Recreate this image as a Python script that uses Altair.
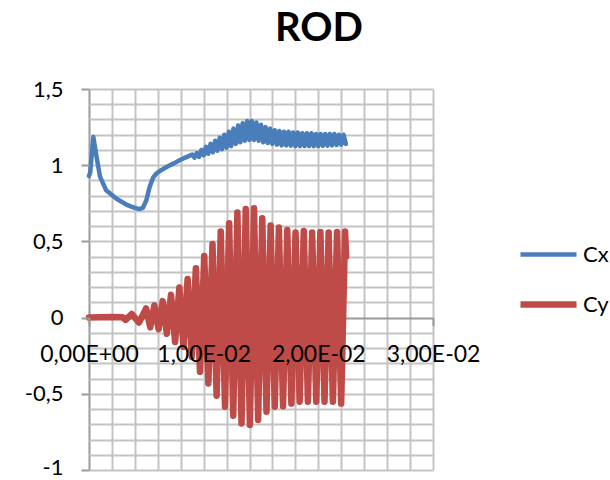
import altair as alt
import pandas as pd

# ---------------- data ----------------
cx_t = [0.0000, 0.0001, 0.00038, 0.00067, 0.00096, 0.0015, 0.0024, 0.0033, 0.0040,
        0.0044, 0.0047, 0.0050, 0.0053, 0.0056, 0.0059, 0.0063, 0.0068, 0.0074, 0.0079, 0.0084,
        0.0090, 0.0092, 0.0094, 0.0096, 0.0098, 0.0100, 0.0102, 0.0104, 0.0106, 0.0108,
        0.0110, 0.0112, 0.0114, 0.0116, 0.0118, 0.0120, 0.0122, 0.0124, 0.0126, 0.0128,
        0.0130, 0.0132, 0.0134, 0.0136, 0.0138, 0.0140, 0.0142, 0.0144, 0.0146, 0.0148,
        0.0150, 0.0152, 0.0154, 0.0156, 0.0158, 0.0160, 0.0162, 0.0164, 0.0166, 0.0168,
        0.0170, 0.0172, 0.0174, 0.0176, 0.0178, 0.0180, 0.0182, 0.0184, 0.0186, 0.0188,
        0.0190, 0.0192, 0.0194, 0.0196, 0.0198, 0.0200, 0.0202, 0.0204, 0.0206, 0.0208,
        0.0210, 0.0212, 0.0214, 0.0216, 0.0218, 0.0220, 0.0222, 0.0224]
cx_v = [0.93, 0.95, 1.185, 1.05, 0.925, 0.835, 0.78, 0.74, 0.72,
        0.712, 0.72, 0.77, 0.86, 0.92, 0.947, 0.968, 0.99, 1.012, 1.032, 1.05,
        1.07, 1.05, 1.08, 1.055, 1.10, 1.065, 1.12, 1.075, 1.14, 1.085,
        1.16, 1.095, 1.18, 1.105, 1.20, 1.115, 1.22, 1.125, 1.24, 1.14,
        1.26, 1.15, 1.275, 1.16, 1.29, 1.165, 1.29, 1.165, 1.28, 1.16,
        1.265, 1.15, 1.25, 1.145, 1.24, 1.14, 1.23, 1.135, 1.225, 1.13,
        1.22, 1.13, 1.22, 1.128, 1.215, 1.125, 1.215, 1.125, 1.21, 1.125,
        1.21, 1.125, 1.21, 1.125, 1.205, 1.125, 1.205, 1.127, 1.205, 1.128,
        1.205, 1.13, 1.205, 1.132, 1.20, 1.135, 1.20, 1.14]

cy_t = [0.0, 0.0020, 0.0029, 0.0032, 0.00372, 0.00436, 0.00498, 0.00534,
        0.00570, 0.00607, 0.00643, 0.00679, 0.00715, 0.00751, 0.00788, 0.00824,
        0.00860, 0.00896, 0.00932, 0.00968, 0.01005, 0.01041, 0.01077, 0.01113,
        0.01149, 0.01186, 0.01222, 0.01258, 0.01294, 0.01330, 0.01367, 0.01403,
        0.01439, 0.01475, 0.01511, 0.01548, 0.01584, 0.01620, 0.01656, 0.01692,
        0.01729, 0.01765, 0.01801, 0.01837, 0.01873, 0.01909, 0.01946, 0.01982,
        0.02018, 0.02054, 0.02090, 0.02127, 0.02163, 0.02199, 0.02233, 0.02242]
cy_v = [0.0, 0.004, 0.003, -0.015, 0.024, -0.033, 0.060, -0.064,
        0.080, -0.076, 0.108, -0.106, 0.150, -0.160, 0.198, -0.193,
        0.253, -0.258, 0.324, -0.356, 0.405, -0.432, 0.483, -0.512,
        0.565, -0.585, 0.619, -0.644, 0.689, -0.695, 0.712, -0.705,
        0.718, -0.672, 0.652, -0.618, 0.604, -0.585, 0.591, -0.582,
        0.575, -0.564, 0.558, -0.552, 0.569, -0.552, 0.558, -0.552,
        0.562, -0.552, 0.558, -0.552, 0.562, -0.564, 0.565, 0.400]

series_names = ["Cx", "Cy"]
series_colors = ["#4A7EBB", "#BE4B48"]
series_widths = [4.5, 6.5]

x_ticks = [0.0, 0.01, 0.02, 0.03]
x_tick_labels = ["0,00E+00", "1,00E-02", "2,00E-02", "3,00E-02"]
y_ticks = [-1.0, -0.5, 0.0, 0.5, 1.0, 1.5]
y_tick_labels = ["-1", "-0,5", "0", "0,5", "1", "1,5"]
x_grid = [round(i * 0.002, 3) for i in range(16)]
y_grid = [round(-1 + i * 0.1, 1) for i in range(26)]

# ---------------- table ----------------
df = pd.concat([
    pd.DataFrame({"t": cx_t, "v": cx_v, "series": "Cx", "i": range(len(cx_t))}),
    pd.DataFrame({"t": cy_t, "v": cy_v, "series": "Cy", "i": range(len(cy_t))}),
], ignore_index=True)

W, H = 344, 381
ymin, ymax = -1.0, 1.5
zero_offset = -(H - H * ymax / (ymax - ymin))  # moves the x axis up to y = 0

xlab_expr = "[" + ",".join("'%s'" % s for s in x_tick_labels) + "][round(datum.value*100)]"
ylab_expr = "[" + ",".join("'%s'" % s for s in y_tick_labels) + "][round((datum.value+1)*2)]"

xscale = alt.Scale(domain=[0, 0.03], nice=False, zero=False)
yscale = alt.Scale(domain=[ymin, ymax], nice=False, zero=False)

GRID = "#c4c4c4"
AXIS = "#9a9a9a"

base = alt.Chart(df)

lines = base.mark_line(strokeCap="round", strokeJoin="round").encode(
    x=alt.X("t:Q", scale=xscale, axis=alt.Axis(
        values=x_grid, grid=True, ticks=False, labels=False, domain=False, title=None,
        orient="bottom", zindex=0, gridWidth=2,
        gridColor=alt.condition("datum.value == 0", alt.value(AXIS), alt.value(GRID)))),
    y=alt.Y("v:Q", scale=yscale, axis=alt.Axis(
        values=y_grid, grid=True, ticks=False, labels=False, domain=False, title=None,
        orient="left", zindex=0, gridWidth=2,
        gridColor=alt.condition("datum.value == 0", alt.value(AXIS), alt.value(GRID)))),
    color=alt.Color("series:N", scale=alt.Scale(domain=series_names, range=series_colors),
                    legend=alt.Legend(title=None, orient="none", legendX=428, legendY=135,
                                      symbolType="stroke", symbolSize=3136,
                                      symbolStrokeWidth=4.5, labelFontSize=22,
                                      labelFont="Lato", labelColor="#000000",
                                      rowPadding=7, padding=0, labelOffset=3)),
    strokeWidth=alt.StrokeWidth("series:N", scale=alt.Scale(domain=series_names, range=series_widths),
                                legend=None),
    order="i:Q",
)

# ticks under the red series are hidden in the reference; only the end ticks show
labels = base.mark_line(strokeOpacity=0).encode(
    x=alt.X("t:Q", scale=xscale, axis=alt.Axis(
        values=x_ticks, labelExpr=xlab_expr, grid=False, domain=False, ticks=True,
        tickSize=8, tickWidth=2, tickColor=AXIS, offset=zero_offset, labelPadding=18,
        tickOpacity=alt.condition("datum.value < 0.005 || datum.value > 0.025",
                                  alt.value(1), alt.value(0)),
        labelFlush=False, labelFontSize=23, labelFont="Lato", labelColor="#000000",
        labelAlign="center", title=None, orient="bottom", zindex=1)),
    y=alt.Y("v:Q", scale=yscale, axis=alt.Axis(
        values=y_ticks, labelExpr=ylab_expr, grid=False, domain=False, ticks=True,
        tickSize=8, tickWidth=2, tickColor=AXIS, labelPadding=18, labelFontSize=22,
        labelAlign="right", labelBaseline="middle",
        labelOffset=alt.condition("datum.value == -1", alt.value(-3), alt.value(0)),
        labelFont="Lato", labelColor="#000000", title=None, orient="left", zindex=1)),
    detail="series:N",
    order="i:Q",
)

chart = alt.layer(lines, labels).resolve_axis(x="independent", y="independent").properties(
    width=W, height=H,
    title=alt.TitleParams("ROD", fontSize=40, font="Lato", fontWeight="bold",
                          anchor="middle", dx=58, dy=-25, color="#000000"),
    padding={"left": 89, "top": 89, "right": 177, "bottom": 10},
    autosize=alt.AutoSizeParams(type="none"),
).configure_view(stroke=None)

chart.save("out.html", embed_options={"renderer": "svg", "actions": False})
